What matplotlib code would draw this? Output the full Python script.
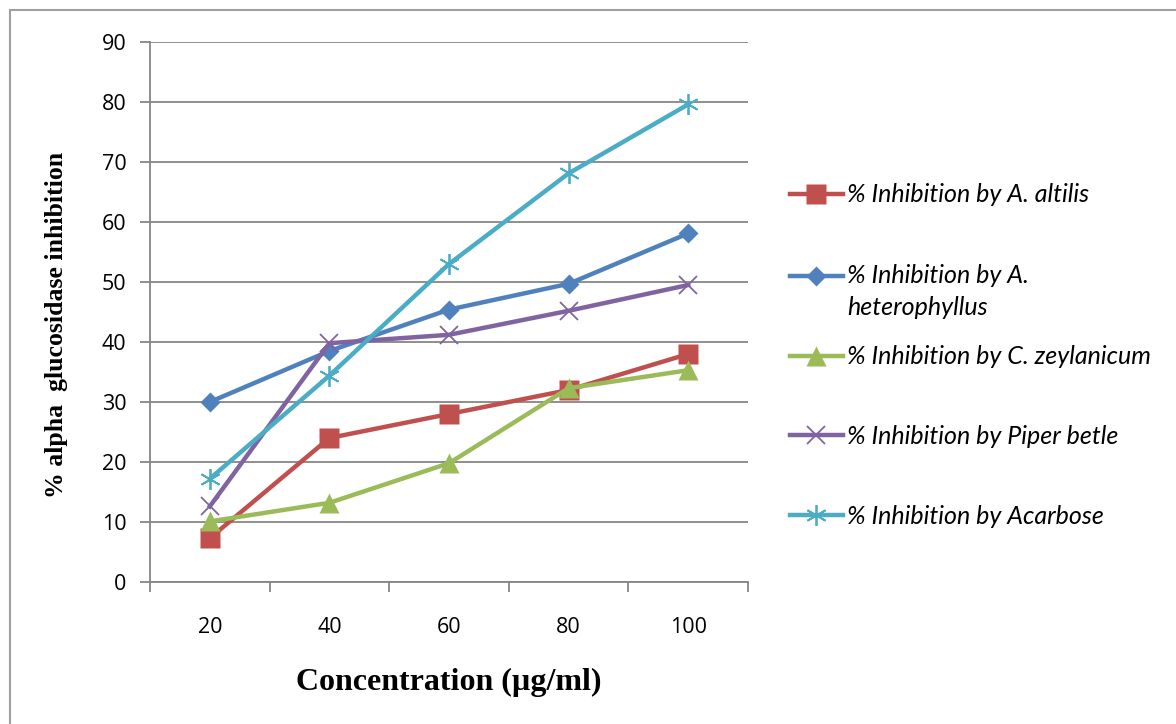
import numpy as np
import matplotlib.pyplot as plt
from matplotlib.patches import Rectangle

concentration = ['20', '40', '60', '80', '100']
altilis = [7.3, 24.0, 28.0, 32.0, 38.0]
heterophyllus = [30.0, 38.5, 45.4, 49.7, 58.1]
zeylanicum = [10.1, 13.2, 19.8, 32.3, 35.3]
piper_betle = [12.6, 39.8, 41.2, 45.2, 49.5]
acarbose = [17.2, 34.4, 53.0, 68.1, 79.6]

labels = ['% Inhibition by A. altilis',
          '% Inhibition by A.\nheterophyllus',
          '% Inhibition by C. zeylanicum',
          '% Inhibition by Piper betle',
          '% Inhibition by Acarbose']

fig = plt.figure(figsize=(11.76, 7.24), dpi=100)
ax = fig.add_axes([150/1176, 1-582/724, 598/1176, 540/724])

# outer frame like the original chart area
fig.patches.append(Rectangle((10/1176, -0.01), 1.0, 1-10/724+0.01, transform=fig.transFigure,
                             fill=False, edgecolor='#a0a0a0', linewidth=1.5))

x = np.arange(len(concentration))
series = [
    (altilis, '#C0504D', 's', 14, 'none'),
    (heterophyllus, '#4F81BD', 'D', 10.5, 'none'),
    (zeylanicum, '#9BBB59', '^', 14, 'none'),
    (piper_betle, '#8064A2', 'x', 13, None),
    (acarbose, '#4BACC6', (6, 2, 0), 15, None),
]
for (vals, col, mk, ms, mec), lab in zip(series, labels):
    kw = dict(markeredgewidth=1.3) if mec is None else dict(markeredgecolor='none')
    ax.plot(x, vals, color=col, lw=3.2, marker=mk, markersize=ms,
            label=lab, **kw)

ax.set_xlim(-0.5, len(concentration) - 0.5)
ax.set_ylim(0, 90)
ax.set_yticks(np.arange(0, 91, 10))
ax.set_xticks(x)
ax.set_xticklabels(concentration)
ax.set_xticks(np.arange(-0.5, len(concentration)), minor=True)
ax.tick_params(axis='x', which='major', length=0, pad=25, labelsize=15.5)
ax.tick_params(axis='x', which='minor', length=7, width=1.3, color='#868686', direction='out')
ax.tick_params(axis='y', length=7, width=1.3, color='#868686', pad=10, labelsize=15.5)
for t in ax.get_xticklabels() + ax.get_yticklabels():
    t.set_fontfamily('Open Sans')

ax.grid(axis='y', color='#868686', lw=1.3)
ax.set_axisbelow(True)
for s in ['top', 'right']:
    ax.spines[s].set_visible(False)
for s in ['left', 'bottom']:
    ax.spines[s].set_color('#868686')
    ax.spines[s].set_linewidth(1.3)

ax.set_xlabel('Concentration (µg/ml)', fontfamily='Liberation Serif', fontweight='bold',
              fontsize=23, labelpad=22)
ax.set_ylabel('% alpha  glucosidase inhibition', fontfamily='Liberation Serif',
              fontweight='bold', fontsize=18.5, labelpad=24)
ax.yaxis.label.set_y(0.476)

handles, labs = ax.get_legend_handles_labels()
leg_font = {'family': 'Lato', 'style': 'italic', 'size': 18}

# first two entries (second one wraps onto two lines)
leg1 = fig.legend(handles[:2], labs[:2], loc='upper left',
                  bbox_to_anchor=(767/1176, 1-161/724), frameon=False, prop=leg_font,
                  handlelength=2.15, handletextpad=0.15, labelspacing=2.3)
leg1.get_texts()[1].set_linespacing(1.45)
# keep the two-line entry's symbol next to its first line
h = leg1.legend_handles[1]
h.set_ydata(np.asarray(h.get_ydata()) + 11.5)

leg2 = fig.legend(handles[2:], labs[2:], loc='upper left',
                  bbox_to_anchor=(767/1176, 1-323/724), frameon=False, prop=leg_font,
                  handlelength=2.15, handletextpad=0.15, labelspacing=2.26)

fig.savefig('out.png', dpi=100)
